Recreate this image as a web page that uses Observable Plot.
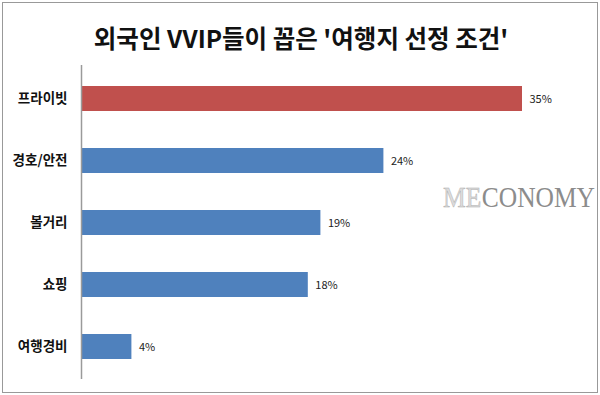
<!DOCTYPE html>
<html>
<head>
<meta charset="utf-8">
<script src="https://cdn.jsdelivr.net/npm/d3@7"></script>
<script src="https://cdn.jsdelivr.net/npm/@observablehq/plot@0.6"></script>
<style>
  body { margin: 0; background: #fff; }
  svg { display: block; }
</style>
</head>
<body>
<div id="chart"></div>
<script>
const categories = ["프라이빗", "경호/안전", "볼거리", "쇼핑", "여행경비"];
const values = [35, 24, 19, 18, 4];
const labels = ["35%", "24%", "19%", "18%", "4%"];
const highlight = ["프라이빗"];
const titleText = "외국인 VVIP들이 꼽은 '여행지 선정 조건'";

const data = categories.map((c, i) => ({category: c, value: values[i], label: labels[i]}));
const font = "'Noto Sans CJK KR', 'Noto Sans', sans-serif";

const chart = Plot.plot({
  width: 600,
  height: 395,
  marginLeft: 81,
  marginRight: 15,
  marginTop: 65,
  marginBottom: 16,
  style: {fontFamily: font, background: "#fff"},
  x: {domain: [0, 40], axis: null},
  y: {domain: categories, paddingInner: 0.6, paddingOuter: 0.3, label: null},
  marks: [
    Plot.barX(data, {
      y: "category", x: "value",
      fill: d => highlight.includes(d.category) ? "#C0504D" : "#4F81BD"
    }),
    Plot.text(data, {
      y: "category", x: "value", text: "label",
      textAnchor: "start", dx: 7, fontSize: 11, fill: "#222"
    }),
    Plot.axisY({
      tickSize: 0, tickPadding: 14, fontSize: 13.5, fontWeight: "bold",
      fill: "#111", label: null
    }),
    Plot.ruleX([0], {stroke: "#9a9a9a", strokeWidth: 1.5})
  ]
});

document.getElementById("chart").appendChild(chart);
const svg = d3.select(chart);

svg.append("rect")
  .attr("x", 2.5).attr("y", 2.5).attr("width", 595).attr("height", 390)
  .attr("fill", "none").attr("stroke", "#999").attr("stroke-width", 1);

svg.append("text")
  .attr("x", 301).attr("y", 48)
  .attr("text-anchor", "middle")
  .attr("font-family", font)
  .attr("font-weight", "bold")
  .attr("font-size", 24.5)
  .attr("fill", "#111")
  .text(titleText);

const serif = "'Liberation Serif', 'DejaVu Serif', serif";
const wm = svg.append("g")
  .attr("transform", "translate(443,207) scale(1,1.15)")
  .attr("font-family", serif)
  .attr("font-size", 25.5)
  .attr("text-anchor", "start");
const me = wm.append("text")
  .attr("x", 0).attr("y", 0)
  .attr("fill", "#dcdcdc").attr("stroke", "#aaa").attr("stroke-width", 0.4)
  .text("ME");
const meW = me.node().getComputedTextLength();
wm.append("text")
  .attr("x", meW + 0.5).attr("y", 0)
  .attr("fill", "#8c8c8c")
  .text("CONOMY");
</script>
</body>
</html>
